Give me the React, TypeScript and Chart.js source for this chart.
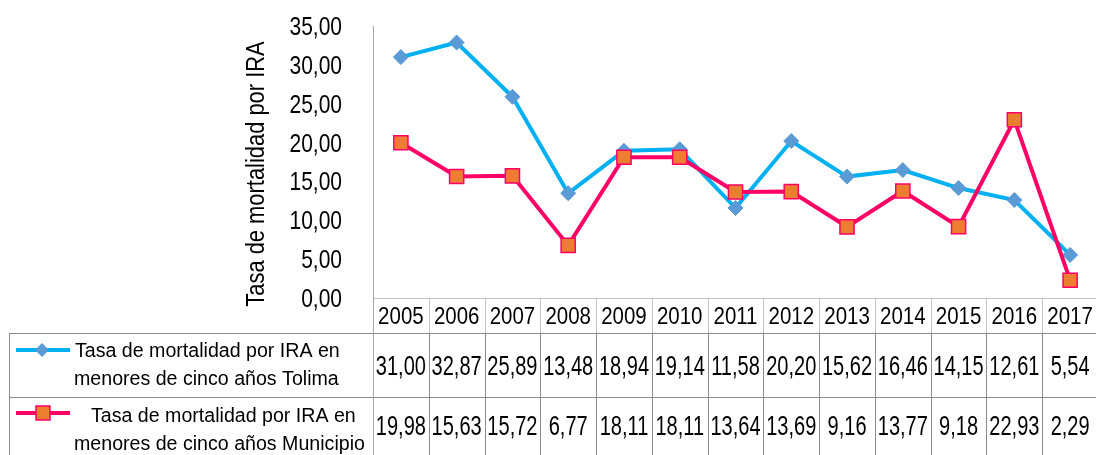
import React, { useEffect, useRef } from 'react';
import { Chart, registerables } from 'chart.js';

Chart.register(...registerables);

const years = ['2005', '2006', '2007', '2008', '2009', '2010', '2011', '2012', '2013', '2014', '2015', '2016', '2017'];
const tolima = [31.0, 32.87, 25.89, 13.48, 18.94, 19.14, 11.58, 20.2, 15.62, 16.46, 14.15, 12.61, 5.54];
const municipio = [19.98, 15.63, 15.72, 6.77, 18.11, 18.11, 13.64, 13.69, 9.16, 13.77, 9.18, 22.93, 2.29];
const yAxisTitle = 'Tasa de mortalidad por IRA';
const tolimaLabel = ['Tasa de mortalidad por IRA en', 'menores de cinco años Tolima'];
const municipioLabel = ['Tasa de mortalidad por IRA en', 'menores de cinco años Municipio'];

const TOLIMA_LINE = '#00B0F0';
const TOLIMA_MARK = '#5B9BD5';
const MUNI_LINE = '#FF0066';
const MUNI_MARK = '#ED7D31';
const FONT = '"Liberation Sans", Arial, sans-serif';

const fmt = (v: number) => v.toFixed(2).replace('.', ',');

function txt(ctx: CanvasRenderingContext2D, s: string, x: number, y: number, size: number, sx: number, align: CanvasTextAlign, rot = 0) {
  ctx.save();
  ctx.translate(x, y);
  if (rot) ctx.rotate(rot);
  ctx.scale(sx, 1);
  ctx.font = `${size}px ${FONT}`;
  ctx.fillStyle = '#000000';
  ctx.textAlign = align;
  ctx.textBaseline = 'alphabetic';
  ctx.fillText(s, 0, 0);
  ctx.restore();
}

const tablePlugin = {
  id: 'dataTable',
  afterDraw(chart: any) {
    const ctx: CanvasRenderingContext2D = chart.ctx;
    const area = chart.chartArea;
    const xs = chart.scales.x;
    const ys = chart.scales.y;
    const n = years.length;
    const w = (area.right - area.left) / n;
    const headerTop = area.bottom;
    const row1Top = 333;
    const row2Top = 397;
    const tableBottom = 460;
    const legendLeft = 9;

    ctx.save();
    // y tick labels
    ys.ticks.forEach((t: any) => {
      const py = ys.getPixelForValue(t.value);
      txt(ctx, fmt(t.value), 342, py + 9, 25, 0.84, 'right');
    });
    // y title
    txt(ctx, yAxisTitle, 264, 174, 25, 0.876, 'center', -Math.PI / 2);

    // header lines
    ctx.lineWidth = 1;
    ctx.strokeStyle = '#C4C4C4';
    ctx.beginPath();
    ctx.moveTo(area.left, Math.round(headerTop) + 0.5);
    ctx.lineTo(area.right + 5, Math.round(headerTop) + 0.5);
    for (let i = 1; i <= n; i++) {
      const bx = Math.round(xs.getPixelForValue(i - 1) + w / 2) + 0.5;
      ctx.moveTo(bx, headerTop);
      ctx.lineTo(bx, row1Top);
    }
    ctx.stroke();

    // data rows lines
    ctx.strokeStyle = '#8C8C8C';
    ctx.beginPath();
    ctx.moveTo(legendLeft, row1Top + 0.5);
    ctx.lineTo(area.right + 5, row1Top + 0.5);
    ctx.moveTo(legendLeft, row2Top + 0.5);
    ctx.lineTo(area.right + 5, row2Top + 0.5);
    ctx.moveTo(legendLeft + 0.5, row1Top);
    ctx.lineTo(legendLeft + 0.5, tableBottom);
    for (let i = 1; i <= n; i++) {
      const bx = Math.round(xs.getPixelForValue(i - 1) + w / 2) + 0.5;
      ctx.moveTo(bx, row1Top);
      ctx.lineTo(bx, tableBottom);
    }
    ctx.stroke();

    // axis line extension
    ctx.strokeStyle = '#A6A6A6';
    ctx.beginPath();
    ctx.moveTo(Math.round(area.left) + 0.5, area.bottom);
    ctx.lineTo(Math.round(area.left) + 0.5, tableBottom);
    ctx.stroke();

    // header & values
    years.forEach((y, i) => {
      const cx = xs.getPixelForValue(i);
      txt(ctx, y, cx, 324, 23, 0.89, 'center');
      txt(ctx, fmt(tolima[i]), cx, 375, 28, 0.715, 'center');
      txt(ctx, fmt(municipio[i]), cx, 435, 28, 0.715, 'center');
    });

    // legend row 1
    ctx.lineCap = 'butt';
    ctx.lineWidth = 4;
    ctx.strokeStyle = TOLIMA_LINE;
    ctx.beginPath();
    ctx.moveTo(16, 350);
    ctx.lineTo(70, 350);
    ctx.stroke();
    ctx.fillStyle = TOLIMA_MARK;
    ctx.beginPath();
    ctx.moveTo(42, 343);
    ctx.lineTo(49, 350);
    ctx.lineTo(42, 357);
    ctx.lineTo(35, 350);
    ctx.closePath();
    ctx.fill();
    txt(ctx, tolimaLabel[0], 75, 357, 20, 0.98, 'left');
    txt(ctx, tolimaLabel[1], 74, 385, 20, 0.98, 'left');

    // legend row 2
    ctx.lineWidth = 4;
    ctx.strokeStyle = MUNI_LINE;
    ctx.beginPath();
    ctx.moveTo(16, 413);
    ctx.lineTo(70, 413);
    ctx.stroke();
    ctx.fillStyle = MUNI_MARK;
    ctx.fillRect(36, 406, 14, 14);
    ctx.lineWidth = 1.5;
    ctx.strokeRect(36, 406, 14, 14);
    txt(ctx, municipioLabel[0], 91, 421.5, 20, 0.98, 'left');
    txt(ctx, municipioLabel[1], 74, 450, 20, 0.98, 'left');
    ctx.restore();
  },
};

export default function App() {
  const ref = useRef<HTMLCanvasElement | null>(null);
  useEffect(() => {
    if (!ref.current) return;
    const chart = new Chart(ref.current, {
      type: 'line',
      data: {
        labels: years,
        datasets: [
          {
            label: tolimaLabel.join(' '),
            data: tolima,
            order: 1,
            borderColor: TOLIMA_LINE,
            backgroundColor: TOLIMA_MARK,
            borderWidth: 4,
            pointStyle: 'rectRot',
            pointRadius: 7.5,
            pointBackgroundColor: TOLIMA_MARK,
            pointBorderColor: TOLIMA_MARK,
            pointBorderWidth: 1,
            tension: 0,
          },
          {
            label: municipioLabel.join(' '),
            data: municipio,
            order: 0,
            borderColor: MUNI_LINE,
            backgroundColor: MUNI_MARK,
            borderWidth: 4,
            pointStyle: 'rect',
            pointRadius: 10,
            pointBackgroundColor: MUNI_MARK,
            pointBorderColor: MUNI_LINE,
            pointBorderWidth: 1.5,
            tension: 0,
          },
        ],
      },
      options: {
        responsive: false,
        animation: false,
        devicePixelRatio: 1,
        layout: { autoPadding: false, padding: { top: 26, right: 2, bottom: 157, left: 0 } },
        plugins: { legend: { display: false }, tooltip: { enabled: false }, title: { display: false } },
        scales: {
          x: {
            type: 'category',
            offset: true,
            grid: { display: false },
            border: { display: false },
            ticks: { display: false },
            afterFit: (s: any) => { s.height = 0; },
          },
          y: {
            min: 0,
            max: 35,
            ticks: { display: false, stepSize: 5 },
            grid: { display: false },
            border: { display: true, color: '#A6A6A6', width: 1 },
            afterFit: (s: any) => { s.width = 373; },
          },
        },
      } as any,
      plugins: [tablePlugin],
    });
    return () => chart.destroy();
  }, []);
  return (
    <div style={{ position: 'fixed', left: 0, top: 0, width: 1096, height: 455, overflow: 'hidden', background: '#fff' }}>
      <canvas ref={ref} width={1100} height={455} style={{ display: 'block' }} />
    </div>
  );
}
